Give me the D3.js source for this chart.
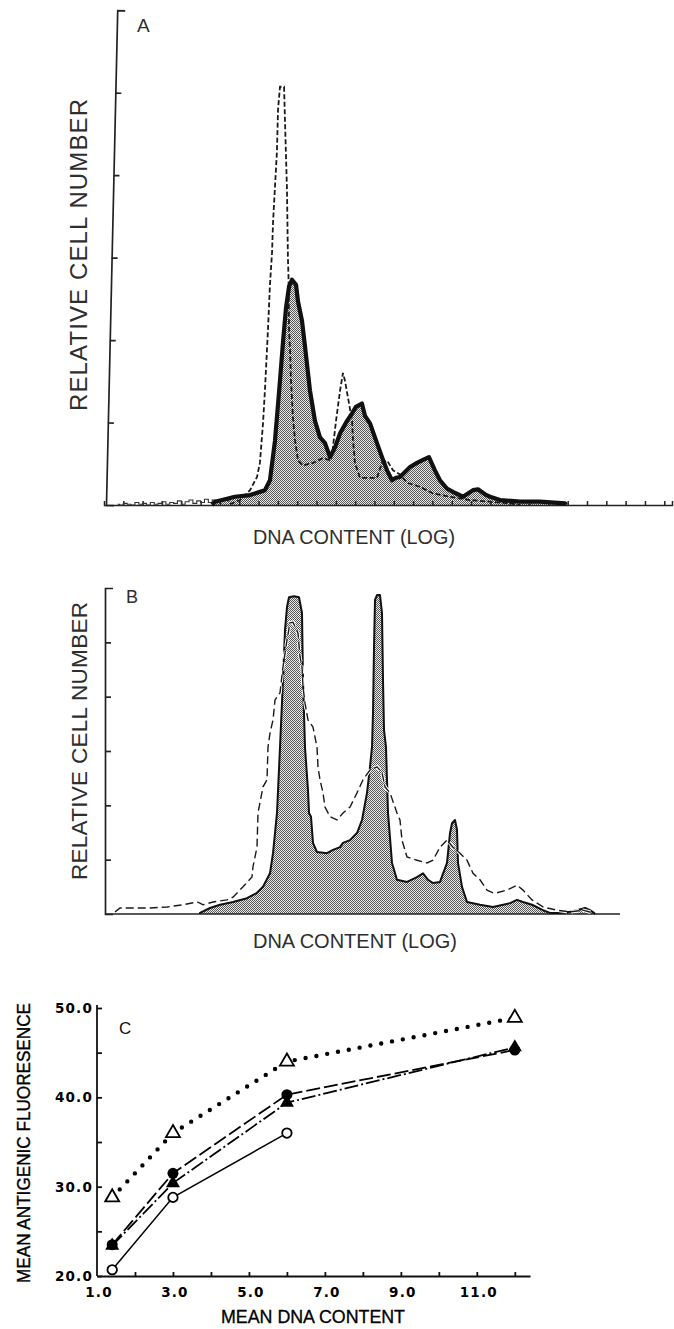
<!DOCTYPE html>
<html><head><meta charset="utf-8">
<script src="https://cdn.jsdelivr.net/npm/d3@7"></script>
<style>body{margin:0;background:#fff}</style>
</head><body><svg id="c" width="674" height="1329"></svg>
<script>
// ---------------- DATA ----------------
// Panel A: histogram (channel, relative count)
const histASolid = [[56,0],[57.5,0.04],[67.8,0.10],[75.6,0.12],[83.3,0.18],[85.9,0.30],[88.5,0.78],[91.1,1.51],[92.7,1.99],[94.2,2.39],[95.8,2.65],[97.3,2.73],[99.4,2.67],[100.4,2.47],[102.5,2.23],[104.0,1.93],[106.6,1.39],[109.2,1.02],[111.8,0.82],[114.4,0.75],[117.0,0.58],[119.6,0.70],[122.2,0.87],[125.8,1.02],[128.4,1.11],[130.4,1.19],[133.5,1.23],[135.1,1.08],[137.7,0.99],[141.3,0.75],[143.9,0.58],[146.5,0.42],[149.1,0.30],[151.1,0.33],[153.2,0.34],[155.8,0.40],[158.4,0.46],[162.0,0.51],[164.6,0.54],[168.2,0.58],[171.3,0.42],[173.9,0.30],[177.5,0.20],[180.6,0.16],[185.8,0.10],[191.0,0.18],[193.6,0.19],[197.2,0.13],[199.8,0.10],[205.0,0.06],[215.3,0.04],[225.7,0.04],[238.6,0.02],[239.1,0]];
const histADashed = [[65.2,0.01],[70.4,0.06],[75.6,0.18],[79.2,0.34],[80.7,0.51],[82.3,0.99],[83.3,1.39],[84.9,2.14],[85.9,2.67],[87.0,3.07],[87.5,3.43],[89.5,4.28],[90.1,4.80],[91.1,5.07],[93.2,5.07],[93.7,4.64],[94.7,3.83],[95.2,2.99],[95.5,2.77],[95.8,2.11],[96.3,1.87],[96.8,1.51],[97.8,1.06],[98.9,0.78],[100.4,0.54],[103.0,0.48],[108.2,0.51],[113.4,0.57],[117.0,0.54],[118.0,0.60],[120.1,1.02],[122.2,1.39],[123.7,1.60],[124.7,1.51],[126.3,1.30],[128.4,1.02],[128.9,0.78],[129.9,0.51],[132.5,0.33],[136.6,0.33],[141.3,0.33],[143.9,0.51],[146.5,0.54],[149.6,0.42],[153.2,0.37],[156.8,0.27],[163.6,0.22],[170.3,0.14],[179.1,0.10],[189.4,0.06],[199.8,0.04],[210.1,0.02],[215.3,0]];
const histANoise = [[7,0.01],[9,0],[11,0.02],[13,0.01],[15,0],[17,0.03],[19,0.01],[21,0.02],[23,0],[25,0.03],[27,0.01],[29,0.02],[31,0.04],[33,0.01],[35,0.03],[37,0.02],[39,0.05],[41,0.01],[43,0.04],[45,0.06],[47,0.02],[49,0.05],[51,0.03],[53,0.07],[55,0.03],[57,0.06],[59,0.04],[61,0.05],[63,0.06],[65,0.05]];
const yTicksAB = [1,2,3,4,5];

// Panel B
const histBSolid = [[46.5,0],[46.5,0.02],[51.5,0.11],[56.5,0.17],[63,0.22],[70,0.29],[75,0.39],[78,0.50],[81.5,0.75],[83,1.12],[85,1.86],[86.5,3.07],[88,4.31],[89,5.23],[90,5.65],[91,5.83],[93.5,5.85],[96,5.83],[97.5,5.54],[98,4.31],[99,3.07],[100.5,2.28],[101,1.86],[102,1.79],[103,1.31],[105,1.14],[110,1.12],[113,1.18],[116.5,1.23],[118,1.31],[121.5,1.36],[125,1.49],[127.5,1.73],[130,2.23],[131.5,2.71],[132.5,3.07],[133,3.70],[133.5,4.91],[134,5.78],[135,5.87],[136.5,5.87],[137.5,5.54],[138,4.31],[138.5,3.39],[139.5,3.07],[140,2.47],[140.5,1.86],[142.5,0.94],[145,0.63],[150,0.59],[155,0.68],[158,0.75],[160.5,0.63],[163,0.57],[166.5,0.59],[170,0.94],[171.5,1.49],[172.5,1.67],[174,1.73],[175,1.55],[175.5,0.94],[177.5,0.50],[180,0.22],[186.5,0.17],[193,0.13],[201.5,0.20],[205,0.26],[208,0.22],[212.5,0.17],[218,0.07],[221.5,0.02],[226.5,0.02],[231.5,0.04],[235,0.07],[239,0.11],[241.5,0.07],[243.5,0.02],[244,0]];
const histBDashed = [[4,0.04],[6.5,0.11],[13,0.11],[21.5,0.11],[30,0.13],[38,0.17],[45,0.22],[46.5,0.20],[48,0.17],[53,0.22],[60,0.26],[63,0.31],[68,0.50],[72.5,0.68],[73,0.87],[75,1.23],[75.5,1.86],[78,2.34],[80,2.47],[80.5,3.07],[81.5,3.33],[83,3.57],[84,3.94],[86.5,4.07],[88,4.55],[90,5.04],[91.5,5.36],[93,5.37],[95.5,5.17],[96.5,4.73],[97.5,4.55],[98,4.18],[99,3.88],[100.5,3.57],[103,3.44],[105,3.07],[105.5,2.71],[106.5,2.47],[108,2.23],[109,1.97],[111.5,1.79],[115,1.73],[118,1.86],[121.5,1.97],[125,2.23],[128,2.47],[131.5,2.65],[135,2.71],[137.5,2.60],[139,2.34],[141.5,2.23],[145,1.86],[146.5,1.73],[147.5,1.36],[150,1.05],[155,0.99],[160,0.94],[163,0.99],[166.5,1.23],[170,1.36],[173,1.23],[176.5,1.12],[180,0.99],[183,0.75],[186.5,0.63],[190,0.44],[193,0.39],[195,0.39],[200,0.44],[205,0.53],[208,0.44],[212.5,0.26],[218,0.13],[225,0.07],[231.5,0.04],[238,0.07],[243,0.02]];

// Panel C: mean DNA content vs mean antigenic fluorescence
const dnaX = [1.4, 3.0, 6.0, 12.0];
const openTriangle = [28.8, 36.0, 44.0, 48.9];
const filledCircle = [23.5, 31.5, 40.3, 45.3];
const filledTriangle = [23.4, 30.4, 39.4, 45.6];
const openCircle = [20.7, 28.8, 36.0];
const cYTickValues = [20, 30, 40, 50];
const cYTickLabels = ["20.0", "30.0", "40.0", "50.0"];
const cXTickValues = [1, 3, 5, 7, 9, 11];
const cXTickLabels = ["1.0", "3.0", "5.0", "7.0", "9.0", "11.0"];

// ---------------- DRAW ----------------
const svg = d3.select("#c");
const defs = svg.append("defs");
const pat = defs.append("pattern").attr("id","stip").attr("width",2).attr("height",2).attr("patternUnits","userSpaceOnUse");
pat.append("rect").attr("width",2).attr("height",2).attr("fill","#ececec");
pat.append("rect").attr("width",1).attr("height",1).attr("fill","#555");
pat.append("rect").attr("x",1).attr("y",1).attr("width",1).attr("height",1).attr("fill","#555");

const txtCol = "#2e2e2e";
const font = "'Liberation Sans', Arial, sans-serif";

function histPanel(opts){
  const g = svg.append("g");
  const x = d3.scaleLinear().domain(opts.xDomain).range(opts.xRange);
  const y = d3.scaleLinear().domain([0,6]).range(opts.yRange);
  const area = d3.area().x(d=>x(d[0])).y0(y(0)).y1(d=>y(d[1]));
  const line = d3.line().x(d=>x(d[0])).y(d=>y(d[1]));
  g.append("path").datum(opts.solid).attr("d",area).attr("fill","url(#stip)");
  const xa = d3.axisTop(x).tickSizeOuter(0).tickFormat("");
  if (opts.xTicks) xa.tickValues(opts.xTicks).tickSize(4); else xa.tickValues([]).tickSize(0);
  const gx = g.append("g").attr("transform",`translate(0,${y(0)})`).call(xa);
  gx.selectAll("path,line").attr("stroke","#222").attr("stroke-width",1.5);
  return {g,x,y,line};
}

// ---- Panel A ----
{
  const P = histPanel({xDomain:[0,294], xRange:[104,672], yRange:[505,10], solid:histASolid, xTicks:d3.range(10,291,10)});
  const {g,x,y,line} = P;
  g.append("path").datum(histANoise).attr("d",line.curve(d3.curveStep)).attr("fill","none").attr("stroke","#333").attr("stroke-width",1.1);
  line.curve(d3.curveLinear);
  g.append("path").datum(histADashed).attr("d",line).attr("fill","none").attr("stroke","#1a1a1a").attr("stroke-width",1.8).attr("stroke-dasharray","5,2.5");
  g.append("path").datum(histASolid).attr("d",line).attr("fill","none").attr("stroke","#111").attr("stroke-width",4.2).attr("stroke-linejoin","round");
  const ya = d3.axisRight(y).tickValues(yTicksAB).tickSize(6).tickSizeOuter(8).tickFormat("");
  const gy = g.append("g").attr("transform",`translate(106,0) rotate(1.3,0,505)`).call(ya);
  gy.selectAll("path,line").attr("stroke","#222").attr("stroke-width",1.7);
  g.append("text").text("A").attr("x",137).attr("y",32).attr("font-family",font).attr("font-size",19).attr("fill",txtCol);
  g.append("text").text("RELATIVE CELL NUMBER").attr("transform","translate(87,255) rotate(-90)")
    .attr("text-anchor","middle").attr("font-family",font).attr("font-size",24).attr("fill",txtCol)
    .attr("textLength",312).attr("lengthAdjust","spacing");
  g.append("text").text("DNA CONTENT (LOG)").attr("x",354).attr("y",544).attr("text-anchor","middle")
    .attr("font-family",font).attr("font-size",20).attr("fill",txtCol).attr("textLength",202).attr("lengthAdjust","spacingAndGlyphs");
}

// ---- Panel B ----
{
  const P = histPanel({xDomain:[0,256], xRange:[107,619], yRange:[914,588], solid:histBSolid, xTicks:null});
  const {g,x,y,line} = P;
  g.select("g").select("path.domain").attr("d",`M105,0H620`);
  g.append("path").datum(histBSolid).attr("d",line).attr("fill","none").attr("stroke","#111").attr("stroke-width",2).attr("stroke-linejoin","round");
  g.append("path").datum(histBDashed).attr("d",line).attr("fill","none").attr("stroke","#fff").attr("stroke-width",3.4).attr("stroke-dasharray","8,4");
  g.append("path").datum(histBDashed).attr("d",line).attr("fill","none").attr("stroke","#1a1a1a").attr("stroke-width",1.4).attr("stroke-dasharray","8,4");
  const ya = d3.axisRight(y).tickValues(yTicksAB).tickSize(6).tickSizeOuter(8).tickFormat("");
  const gy = g.append("g").attr("transform",`translate(105,0)`).call(ya);
  gy.selectAll("path,line").attr("stroke","#222").attr("stroke-width",1.7);
  g.append("text").text("B").attr("x",126).attr("y",603).attr("font-family",font).attr("font-size",18).attr("fill",txtCol);
  g.append("text").text("RELATIVE CELL NUMBER").attr("transform","translate(87,741) rotate(-90)")
    .attr("text-anchor","middle").attr("font-family",font).attr("font-size",22.5).attr("fill",txtCol)
    .attr("textLength",278).attr("lengthAdjust","spacing");
  g.append("text").text("DNA CONTENT (LOG)").attr("x",355).attr("y",948).attr("text-anchor","middle")
    .attr("font-family",font).attr("font-size",20).attr("fill",txtCol).attr("textLength",204).attr("lengthAdjust","spacingAndGlyphs");
}

// ---- Panel C ----
{
  const g = svg.append("g");
  const x = d3.scaleLinear().domain([1,12.4]).range([97,530]);
  const y = d3.scaleLinear().domain([20,50]).range([1276,1008]);
  const ya = d3.axisRight(y).tickValues([20,25,30,35,40,45,50]).tickSize(5).tickSizeOuter(0).tickFormat("");
  const gy = g.append("g").attr("transform",`translate(${x(1)},0)`).call(ya);
  gy.select("path.domain").attr("d",`M0,1276V1005`);
  const xa = d3.axisTop(x).tickValues([2,3,4,5,6,7,8,9,10,11,12]).tickSize(4).tickSizeOuter(0).tickFormat("");
  g.append("g").attr("transform",`translate(0,${y(20)})`).call(xa);
  g.selectAll(".domain, .tick line").attr("stroke","#111").attr("stroke-width",1.8);

  const tickFont = "'DejaVu Sans', sans-serif";
  g.selectAll("text.yl").data(cYTickValues).join("text").attr("class","yl")
    .attr("x",93).attr("y",d=>y(d)+5).attr("text-anchor","end")
    .attr("font-family",tickFont).attr("font-weight","bold").attr("font-size",13.5).attr("letter-spacing",1.2)
    .text((d,i)=>cYTickLabels[i]);
  g.selectAll("text.xl").data(cXTickValues).join("text").attr("class","xl")
    .attr("x",d=>x(d)+2).attr("y",1297).attr("text-anchor","middle")
    .attr("font-family",tickFont).attr("font-weight","bold").attr("font-size",13.5).attr("letter-spacing",1.2)
    .text((d,i)=>cXTickLabels[i]);

  g.append("text").text("C").attr("x",119).attr("y",1034).attr("font-family",font).attr("font-size",17).attr("fill","#111");
  g.append("text").text("MEAN ANTIGENIC FLUORESENCE").attr("transform","translate(30,1143) rotate(-90)")
    .attr("text-anchor","middle").attr("font-family",font).attr("font-size",17.5).attr("fill","#000")
    .attr("stroke","#000").attr("stroke-width",0.35).attr("textLength",280).attr("lengthAdjust","spacingAndGlyphs");
  g.append("text").text("MEAN DNA CONTENT").attr("x",313).attr("y",1323).attr("text-anchor","middle")
    .attr("font-family",font).attr("font-size",17.5).attr("fill","#000").attr("stroke","#000").attr("stroke-width",0.3)
    .attr("textLength",184).attr("lengthAdjust","spacingAndGlyphs");

  const line = d3.line().x(d=>x(d[0])).y(d=>y(d[1]));
  const pts = arr => arr.map((v,i)=>[dnaX[i], v]);
  g.append("path").datum(pts(openTriangle)).attr("d",line).attr("fill","none").attr("stroke","#000")
    .attr("stroke-width",4.4).attr("stroke-linecap","round").attr("stroke-dasharray","0,11");
  g.append("path").datum(pts(filledCircle)).attr("d",line).attr("fill","none").attr("stroke","#000")
    .attr("stroke-width",1.8).attr("stroke-dasharray","14,4");
  g.append("path").datum(pts(filledTriangle)).attr("d",line).attr("fill","none").attr("stroke","#000")
    .attr("stroke-width",1.8).attr("stroke-dasharray","14,3,2,3");
  g.append("path").datum(pts(openCircle)).attr("d",line).attr("fill","none").attr("stroke","#000")
    .attr("stroke-width",1.5);
  const tri = d3.symbol(d3.symbolTriangle, 85);
  const circ = d3.symbol(d3.symbolCircle, 95);
  const ocirc = d3.symbol(d3.symbolCircle, 70);
  g.selectAll("path.mfc").data(pts(filledCircle)).join("path").attr("class","mfc")
    .attr("transform",d=>`translate(${x(d[0])},${y(d[1])})`).attr("d",circ).attr("fill","#000");
  g.selectAll("path.mft").data(pts(filledTriangle)).join("path").attr("class","mft")
    .attr("transform",d=>`translate(${x(d[0])},${y(d[1])})`).attr("d",tri).attr("fill","#000");
  g.selectAll("path.mot").data(pts(openTriangle)).join("path").attr("class","mot")
    .attr("transform",d=>`translate(${x(d[0])},${y(d[1])})`).attr("d",tri).attr("fill","#fff").attr("stroke","#000").attr("stroke-width",1.8);
  g.selectAll("path.moc").data(pts(openCircle)).join("path").attr("class","moc")
    .attr("transform",d=>`translate(${x(d[0])},${y(d[1])})`).attr("d",ocirc).attr("fill","#fff").attr("stroke","#000").attr("stroke-width",1.8);
}
</script>
</body></html>
